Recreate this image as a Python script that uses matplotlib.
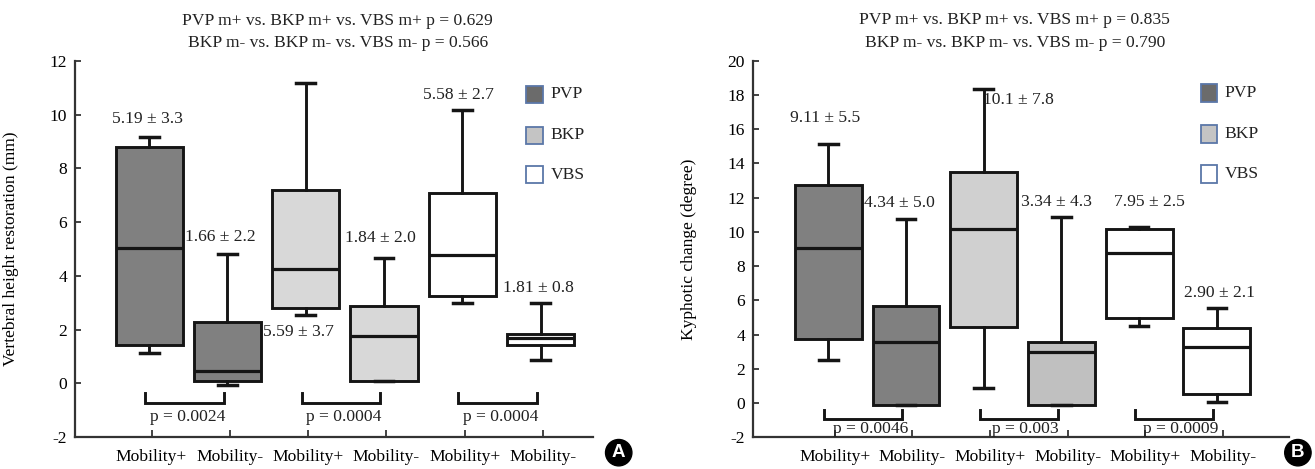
import matplotlib

matplotlib.use("Agg")
import matplotlib.pyplot as plt
import numpy as np
from matplotlib.patches import Rectangle

plt.rcParams["font.family"] = ["Liberation Serif", "DejaVu Serif"]
plt.rcParams["font.size"] = 12.6
plt.rcParams["text.color"] = "#222222"
plt.rcParams["axes.unicode_minus"] = False

TICK_LABELS: list[str] = ["Mobility+", "Mobility-"] * 3
GROUPS: list[str] = ["PVP", "BKP", "VBS"]

# panel A - vertebral height restoration (mm)
A_WHISLO = [1.12, -0.05, 2.56, 0.08, 2.99, 0.88]
A_Q1 = [1.42, 0.08, 2.80, 0.10, 3.24, 1.42]
A_MED = [5.05, 0.45, 4.27, 1.75, 4.77, 1.70]
A_Q3 = [8.80, 2.28, 7.20, 2.86, 7.10, 1.85]
A_WHISHI = [9.16, 4.83, 11.18, 4.67, 10.18, 3.00]
A_MEAN_SD = ["5.19 ± 3.3", "1.66 ± 2.2", "5.59 ± 3.7", "1.84 ± 2.0", "5.58 ± 2.7", "1.81 ± 0.8"]
A_PAIR_P = ["p = 0.0024", "p = 0.0004", "p = 0.0004"]
A_TITLE = ["PVP m+ vs. BKP m+ vs. VBS m+ p = 0.629", "BKP m- vs. BKP m- vs. VBS m- p = 0.566"]
A_YLABEL = "Vertebral height restoration (mm)"

# panel B - kyphotic change (degree)
B_WHISLO = [2.51, -0.12, 0.86, -0.12, 4.50, 0.08]
B_Q1 = [3.74, -0.12, 4.42, -0.12, 4.95, 0.51]
B_MED = [9.03, 3.58, 10.15, 3.00, 8.78, 3.25]
B_Q3 = [12.73, 5.67, 13.47, 3.54, 10.15, 4.40]
B_WHISHI = [15.13, 10.75, 18.32, 10.85, 10.30, 5.53]
B_MEAN_SD = ["9.11 ± 5.5", "4.34 ± 5.0", "10.1 ± 7.8", "3.34 ± 4.3", "7.95 ± 2.5", "2.90 ± 2.1"]
B_PAIR_P = ["p = 0.0046", "p = 0.003", "p = 0.0009"]
B_TITLE = ["PVP m+ vs. BKP m+ vs. VBS m+ p = 0.835", "BKP m- vs. BKP m- vs. VBS m- p = 0.790"]
B_YLABEL = "Kyphotic change (degree)"

# styling / layout
EDGE = "#151515"
A_FILLS = ["#808080", "#808080", "#d8d8d8", "#d8d8d8", "#ffffff", "#ffffff"]
B_FILLS = ["#808080", "#808080", "#d0d0d0", "#c0c0c0", "#ffffff", "#ffffff"]
LEGEND_FILLS = ["#6b6b6b", "#c4c4c4", "#ffffff"]


def draw_panel(ax, whislo, q1, med, q3, whishi, fills, mean_sd, text_x, text_y,
               pair_p, bracket_y, p_y, title, ylabel, ylim, box_shift,
               xlim, legend_x, legend_y, legend_w, legend_h, title_x, ylabel_x):
    ticks = np.arange(1, 7)
    positions = ticks + box_shift
    stats = [
        {"whislo": whislo[i], "q1": q1[i], "med": med[i], "q3": q3[i],
         "whishi": whishi[i], "fliers": []}
        for i in range(len(med))
    ]
    bp = ax.bxp(
        stats, positions=positions, widths=0.86, capwidths=0.24,
        patch_artist=True, showfliers=False, manage_ticks=False,
        boxprops=dict(edgecolor=EDGE, linewidth=2.1),
        whiskerprops=dict(color=EDGE, linewidth=2.1),
        capprops=dict(color=EDGE, linewidth=2.5),
        medianprops=dict(color=EDGE, linewidth=2.3),
    )
    for patch, fc in zip(bp["boxes"], fills):
        patch.set_facecolor(fc)

    for label, x, y in zip(mean_sd, text_x, text_y):
        ax.text(x, y, label, ha="center", va="center")

    top, bot = bracket_y
    for i, p in enumerate(pair_p):
        x0 = positions[2 * i] - 0.05
        x1 = positions[2 * i + 1] - 0.05
        ax.plot([x0, x0, x1, x1], [top, bot, bot, top], color=EDGE, lw=2.1,
                solid_joinstyle="miter")
        ax.text(ticks[2 * i] + 0.46, p_y, p, ha="center", va="center")

    ax.set_xlim(*xlim)
    ax.set_ylim(*ylim)
    ax.set_yticks(np.arange(ylim[0], ylim[1] + 1, 2))
    ax.set_xticks(ticks)
    ax.set_xticklabels(TICK_LABELS)
    ax.tick_params(axis="x", direction="in", length=5.3, width=1.2, pad=8.5,
                   color="#222222")
    ax.tick_params(axis="y", direction="in", length=4.2, width=1.2, pad=5.5,
                   color="#222222")
    for side in ("top", "right"):
        ax.spines[side].set_visible(False)
    for side in ("left", "bottom"):
        ax.spines[side].set_linewidth(1.6)
        ax.spines[side].set_color("#333333")

    ax.set_ylabel(ylabel)
    ax.yaxis.set_label_coords(ylabel_x, 0.5)

    ax.text(title_x, 1.107, title[0], transform=ax.transAxes, ha="center", va="center")
    ax.text(title_x, 1.048, title[1], transform=ax.transAxes, ha="center", va="center")

    for name, fc, y in zip(GROUPS, LEGEND_FILLS, legend_y):
        ax.add_patch(Rectangle((legend_x, y - legend_h / 2), legend_w, legend_h,
                               transform=ax.transAxes, facecolor=fc,
                               edgecolor="#5b77a8", linewidth=1.3, clip_on=False))
        ax.text(legend_x + legend_w + 0.014, y, name, transform=ax.transAxes,
                ha="left", va="center")


fig = plt.figure(figsize=(13.15, 4.69), dpi=100)
ax_a = fig.add_axes([0.057, 0.0682, 0.3943, 0.8017])
ax_b = fig.add_axes([0.5724, 0.0676, 0.4075, 0.803])

draw_panel(
    ax_a, A_WHISLO, A_Q1, A_MED, A_Q3, A_WHISHI, A_FILLS, A_MEAN_SD,
    text_x=[0.95, 1.88, 2.88, 3.93, 4.92, 5.94],
    text_y=[9.85, 5.43, 1.91, 5.40, 10.75, 3.56],
    pair_p=A_PAIR_P, bracket_y=(-0.36, -0.73), p_y=-1.25,
    title=A_TITLE, ylabel=A_YLABEL, ylim=(-2, 12), box_shift=-0.03,
    xlim=(0.022, 6.645), legend_x=0.870, legend_y=[0.912, 0.803, 0.697],
    legend_w=0.0328, legend_h=0.0452, title_x=0.507, ylabel_x=-0.108,
)
draw_panel(
    ax_b, B_WHISLO, B_Q1, B_MED, B_Q3, B_WHISHI, B_FILLS, B_MEAN_SD,
    text_x=[0.88, 1.83, 3.37, 3.86, 5.05, 5.95],
    text_y=[16.63, 11.66, 17.70, 11.76, 11.76, 6.44],
    pair_p=B_PAIR_P, bracket_y=(-0.41, -0.95), p_y=-1.54,
    title=B_TITLE, ylabel=B_YLABEL, ylim=(-2, 20), box_shift=-0.08,
    xlim=(-0.054, 6.843), legend_x=0.837, legend_y=[0.915, 0.806, 0.698],
    legend_w=0.030, legend_h=0.048, title_x=0.489, ylabel_x=-0.104,
)

for letter, x in (("A", 0.4705), ("B", 0.987)):
    fig.text(x, 0.0348, letter, ha="center", va="center", color="white",
             fontweight="bold", fontsize=13.5, family="Liberation Sans",
             bbox=dict(boxstyle="circle,pad=0.25", facecolor="black", edgecolor="black"))

fig.savefig("out.png", dpi=100)
